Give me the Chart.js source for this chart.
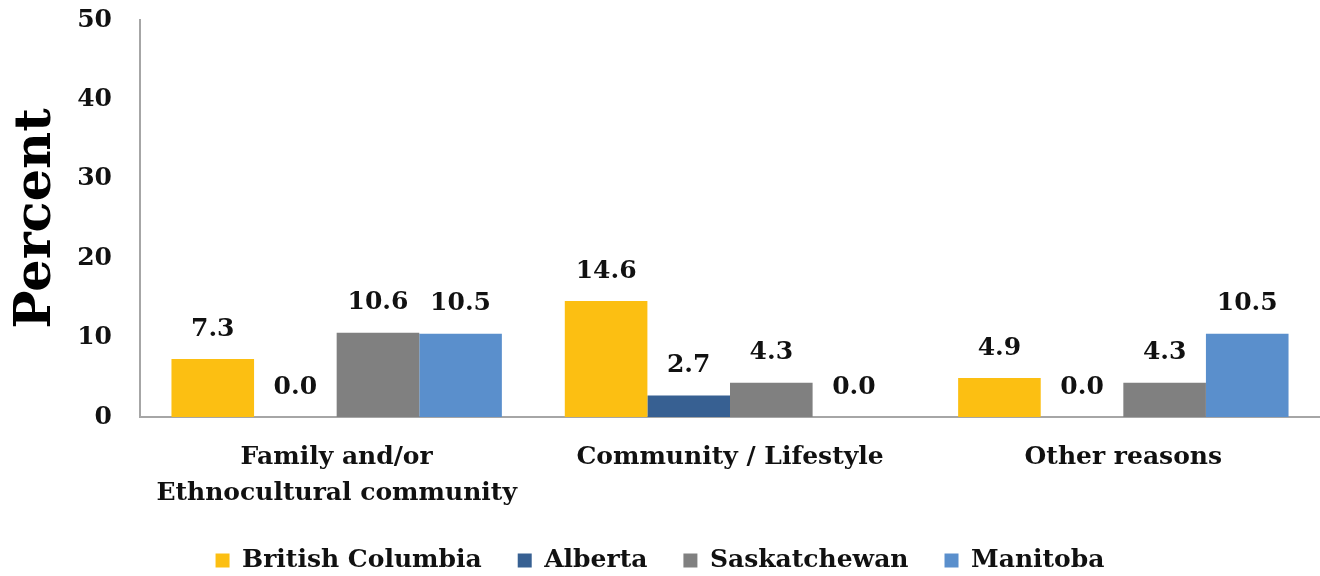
<!DOCTYPE html>
<html><head><meta charset="utf-8">
<script src="https://cdn.jsdelivr.net/npm/chart.js@4/dist/chart.umd.min.js"></script>
<style>html,body{margin:0;padding:0;background:#fff}#wrap{width:1320px;height:576px}</style>
</head><body><div id="wrap"><canvas id="c" width="1320" height="576"></canvas></div>
<script>
const categories = [["Family and/or","Ethnocultural community"],"Community / Lifestyle","Other reasons"];
const seriesNames = ["British Columbia","Alberta","Saskatchewan","Manitoba"];
const britishColumbia = [7.3, 14.6, 4.9];
const alberta = [0.0, 2.7, 0.0];
const saskatchewan = [10.6, 4.3, 4.3];
const manitoba = [10.5, 0.0, 10.5];
const yTicks = [0,10,20,30,40,50];
const colors = ["#FCBF12","#376092","#808080","#5A8FCC"];
const FONT = "'DejaVu Serif', serif";

const labelPlugin = {
  id:'labels',
  afterDatasetsDraw(chart){
    const ctx = chart.ctx;
    ctx.save();
    ctx.font = "bold 25px " + FONT;
    ctx.fillStyle = "#111";
    ctx.textAlign = "center";
    ctx.textBaseline = "middle";
    chart.data.datasets.forEach((ds,i)=>{
      chart.getDatasetMeta(i).data.forEach((el,j)=>{
        ctx.fillText(ds.data[j].toFixed(1), el.x, el.y - 30);
      });
    });
    ctx.restore();
  }
};

new Chart(document.getElementById('c'),{
  type:'bar',
  data:{labels:categories,datasets:[britishColumbia,alberta,saskatchewan,manitoba].map((d,i)=>({
    label:seriesNames[i],data:d,backgroundColor:colors[i],borderWidth:0,
    categoryPercentage:0.84,barPercentage:1
  }))},
  options:{
    responsive:false,animation:false,
    layout:{padding:{top:20,right:0,left:0,bottom:-7}},
    plugins:{
      tooltip:{enabled:false},
      legend:{position:'bottom',labels:{font:{family:FONT,size:25,weight:'bold'},color:'#111',boxWidth:14,boxHeight:14,padding:36}}
    },
    scales:{
      y:{min:0,max:50,afterFit(s){s.width=140;},
        afterBuildTicks(s){s.ticks=yTicks.map(v=>({value:v}));},
        grid:{display:false,drawOnChartArea:false,drawTicks:true,tickLength:28,tickColor:'rgba(0,0,0,0)'},
        border:{display:true,color:'#A6A6A6',width:2},
        ticks:{padding:0,font:{family:FONT,size:25,weight:'bold'},color:'#111'},
        title:{display:true,text:'Percent',font:{family:FONT,size:51,weight:'bold'},color:'#000',padding:{bottom:0,top:6}}
      },
      x:{afterFit(s){s.height=95;},
        grid:{display:false,drawTicks:false},
        border:{display:true,color:'#A6A6A6',width:2},
        ticks:{padding:22,font:{family:FONT,size:25,weight:'bold',lineHeight:1.45},color:'#111',maxRotation:0}
      }
    }
  },
  plugins:[labelPlugin]
});
</script></body></html>
